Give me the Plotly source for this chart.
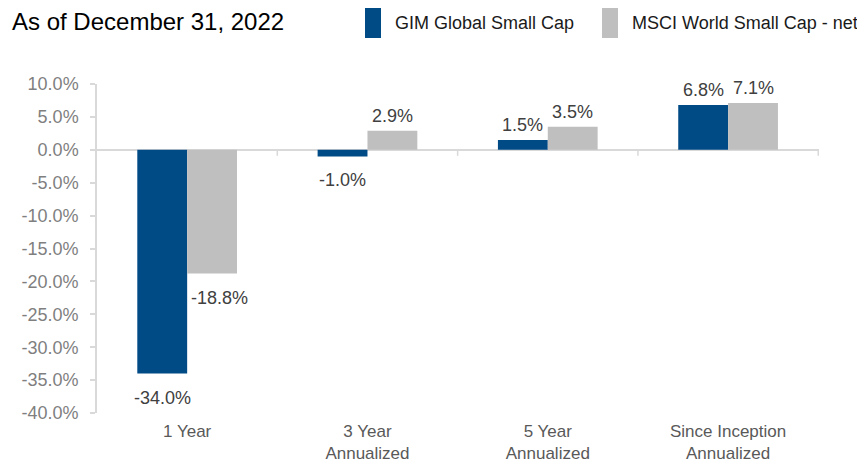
import plotly.graph_objects as go

# ---- data ----
categories = ["1 Year", "3 Year<br>Annualized", "5 Year<br>Annualized", "Since Inception<br>Annualized"]
series_names = ["GIM Global Small Cap", "MSCI World Small Cap - net"]
gim_values = [-34.0, -1.0, 1.5, 6.8]
msci_values = [-18.8, 2.9, 3.5, 7.1]
y_tick_values = [10, 5, 0, -5, -10, -15, -20, -25, -30, -35, -40]
y_tick_labels = ["10.0%", "5.0%", "0.0%", "-5.0%", "-10.0%", "-15.0%", "-20.0%",
                 "-25.0%", "-30.0%", "-35.0%", "-40.0%"]
title_text = "As of December 31, 2022"

# ---- style ----
PAGE = 8  # browser default body margin
W, H = 865 - PAGE, 464 - PAGE
ML, MR, MT, MB = 97 - PAGE, 46, 84 - PAGE, 51
NAVY = "#004A86"
GRAY = "#BFBFBF"
AXIS = "#D9D9D9"
FONT = "Liberation Sans, Arial, sans-serif"
colors = [NAVY, GRAY]
series_values = [gim_values, msci_values]
bar_offsets = [-25, 25]
# manual label nudges (series index, category index) -> extra x pixels
label_nudge_x = {(1, 0): 7}

pw, ph = W - ML - MR, H - MT - MB


def px_x(px):
    # px given in window coordinates
    return (px - PAGE - ML) / pw


def px_y(py):
    return (H - MB - (py - PAGE)) / ph


fig = go.Figure()
for name, vals, col in zip(series_names, series_values, colors):
    fig.add_trace(go.Bar(x=categories, y=vals, name=name, marker=dict(color=col, line=dict(width=0)),
                         showlegend=False))

annotations = []
for si, vals in enumerate(series_values):
    for ci, v in enumerate(vals):
        annotations.append(dict(
            x=categories[ci], y=v, xref="x", yref="y", text=f"{v:.1f}%", showarrow=False,
            xshift=bar_offsets[si] + label_nudge_x.get((si, ci), 0),
            yshift=15 if v >= 0 else -24, yanchor="middle", xanchor="center",
            font=dict(family=FONT, size=18, color="#404040")))

# title
annotations.append(dict(x=px_x(10), y=px_y(21), xref="paper", yref="paper", text=title_text,
                        showarrow=False, xanchor="left", yanchor="middle",
                        font=dict(family=FONT, size=24, color="#000000")))
# legend texts
legend_text_x = [393, 630]
legend_rect_x = [(365, 381), (602, 618)]
shapes = []
for name, col, tx, (rx0, rx1) in zip(series_names, colors, legend_text_x, legend_rect_x):
    annotations.append(dict(x=px_x(tx), y=px_y(23), xref="paper", yref="paper", text=name,
                            showarrow=False, xanchor="left", yanchor="middle",
                            font=dict(family=FONT, size=18, color="#1A1A1A")))
    shapes.append(dict(type="rect", xref="paper", yref="paper", x0=px_x(rx0), x1=px_x(rx1),
                       y0=px_y(38), y1=px_y(7), fillcolor=col, line=dict(width=0)))

# category boundary tick marks on zero line
for b in [0.5, 1.5, 2.5, 3.5]:
    shapes.append(dict(type="line", xref="x", yref="y", x0=b, x1=b, ysizemode="pixel", yanchor=0,
                       y0=0, y1=-6, line=dict(color=AXIS, width=1.5)))

fig.update_layout(
    width=W, height=H,
    margin=dict(l=ML, r=MR, t=MT, b=MB, pad=0, autoexpand=False),
    paper_bgcolor="white", plot_bgcolor="white",
    barmode="group", bargap=0.447, bargroupgap=0,
    annotations=annotations, shapes=shapes,
    font=dict(family=FONT),
    xaxis=dict(showline=False, ticks="", showgrid=False, zeroline=False, automargin=False,
               tickfont=dict(family=FONT, size=17, color="#595959"), ticklabelstandoff=6),
    yaxis=dict(range=[-40, 10], tickvals=y_tick_values, ticktext=y_tick_labels, automargin=False,
               showline=True, linecolor=AXIS, linewidth=1.5,
               ticks="outside", ticklen=5, tickcolor=AXIS, tickwidth=1.5,
               showgrid=False, zeroline=True, zerolinecolor=AXIS, zerolinewidth=2,
               tickfont=dict(family=FONT, size=18, color="#7F7F7F"), ticklabelstandoff=8),
)

fig.write_html("out.html")
